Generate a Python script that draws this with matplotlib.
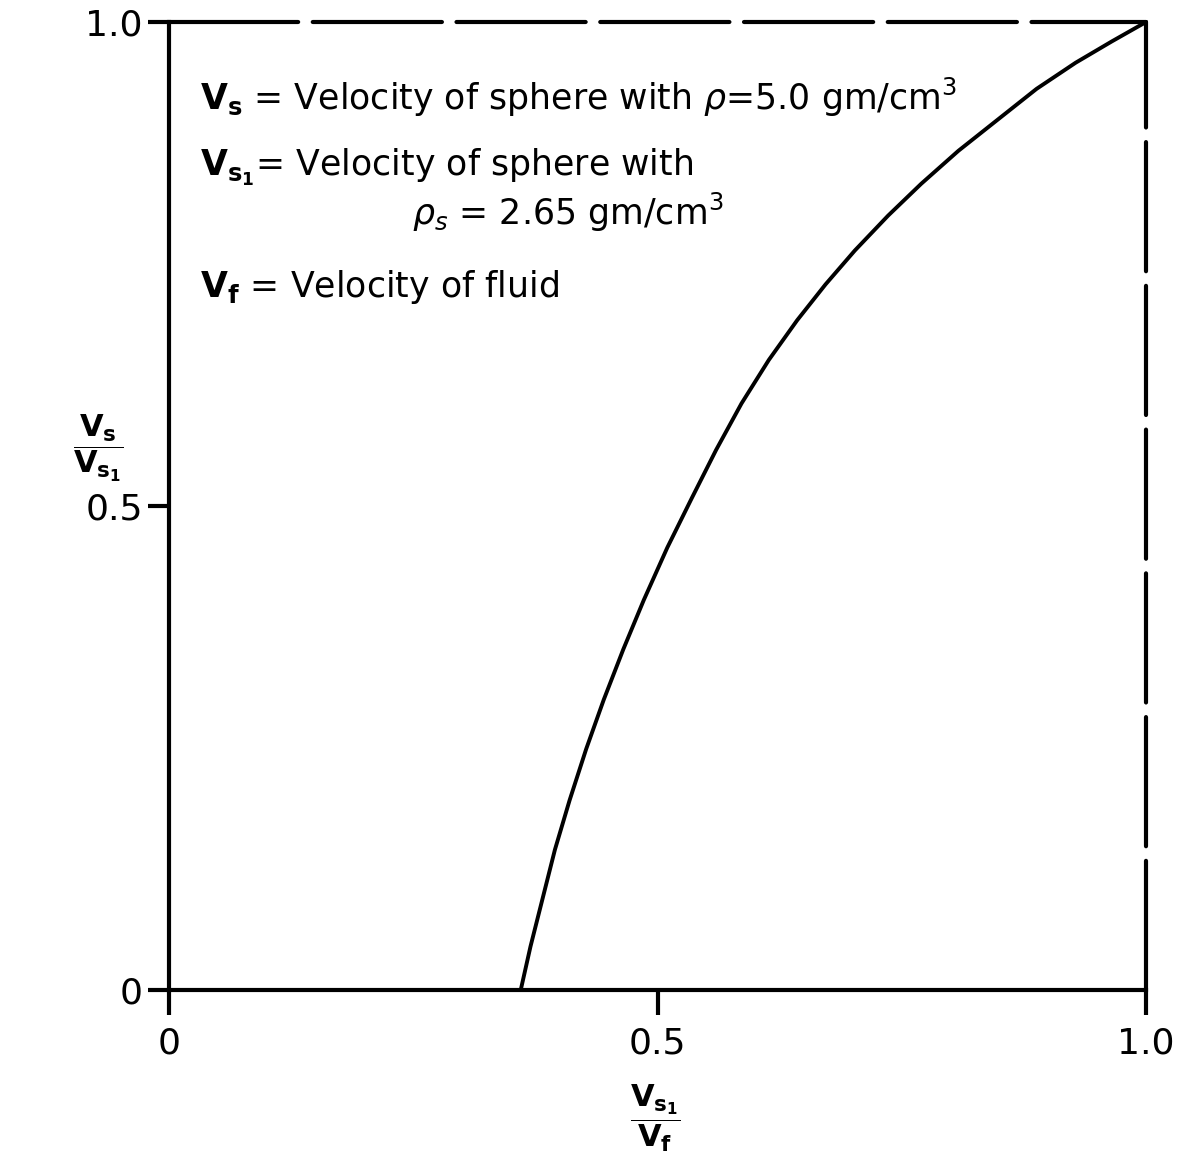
import matplotlib
matplotlib.use("Agg")
import matplotlib.pyplot as plt

# Data
ratio_vs1_vf = [0.360, 0.370, 0.382, 0.395, 0.410, 0.427, 0.445, 0.465, 0.486, 0.510,
                0.535, 0.560, 0.586, 0.614, 0.643, 0.672, 0.702, 0.736, 0.770, 0.808,
                0.848, 0.888, 0.928, 0.965, 1.000]
ratio_vs_vs1 = [0.000, 0.045, 0.093, 0.145, 0.196, 0.249, 0.300, 0.352, 0.403, 0.457,
                0.508, 0.558, 0.606, 0.651, 0.692, 0.729, 0.764, 0.800, 0.833, 0.867,
                0.899, 0.931, 0.958, 0.980, 1.000]

xticks = [0, 0.5, 1.0]
xticklabels = ["0", "0.5", "1.0"]
yticks = [0, 0.5, 1.0]
yticklabels = ["0", "0.5", "1.0"]

plt.rcParams['font.family'] = ['DejaVu Sans']
plt.rcParams['mathtext.fontset'] = 'dejavusans'

fig = plt.figure(figsize=(11.78, 11.62), dpi=100)
ax = fig.add_axes([0.1435, 0.148, 0.8293, 0.833])

ax.plot(ratio_vs1_vf, ratio_vs_vs1, color='black', lw=2.8, solid_joinstyle='round',
        solid_capstyle='round', clip_on=False)

ax.set_xlim(0, 1.0)
ax.set_ylim(0, 1.0)

for s in ['left', 'bottom']:
    ax.spines[s].set_linewidth(3)
for s in ['top', 'right']:
    ax.spines[s].set_linewidth(3)
    ax.spines[s].set_linestyle((0, (31, 3.5)))
    ax.spines[s].set_capstyle('round')

ax.set_xticks(xticks)
ax.set_xticklabels(xticklabels)
ax.set_yticks(yticks)
ax.set_yticklabels(yticklabels)
ax.tick_params(axis='both', direction='out', width=3, labelsize=26, color='black')
ax.tick_params(axis='x', length=18, pad=8)
ax.tick_params(axis='y', length=15, pad=4)

ax.set_xlabel(r'$\dfrac{\mathbf{V_{s_1}}}{\mathbf{V_f}}$', fontsize=22, va='center')
ax.xaxis.set_label_coords(0.498, -0.133)
ax.set_ylabel(r'$\dfrac{\mathbf{V_s}}{\mathbf{V_{s_1}}}$', fontsize=22, rotation=0,
              va='center', ha='center')
ax.yaxis.set_label_coords(-0.072, 0.56)

fs = 25
ax.text(0.032, 0.922, r'$\mathbf{V_s}$ = Velocity of sphere with $\rho$=5.0 gm/cm$^3$',
        fontsize=fs, va='center', ha='left')
ax.text(0.032, 0.850, r'$\mathbf{V_{s_1}}$= Velocity of sphere with',
        fontsize=fs, va='center', ha='left')
ax.text(0.249, 0.803, r'$\rho_s$ = 2.65 gm/cm$^3$',
        fontsize=fs, va='center', ha='left')
ax.text(0.032, 0.726, r'$\mathbf{V_f}$ = Velocity of fluid',
        fontsize=fs, va='center', ha='left')

fig.savefig('out.png', dpi=100, facecolor='white')
